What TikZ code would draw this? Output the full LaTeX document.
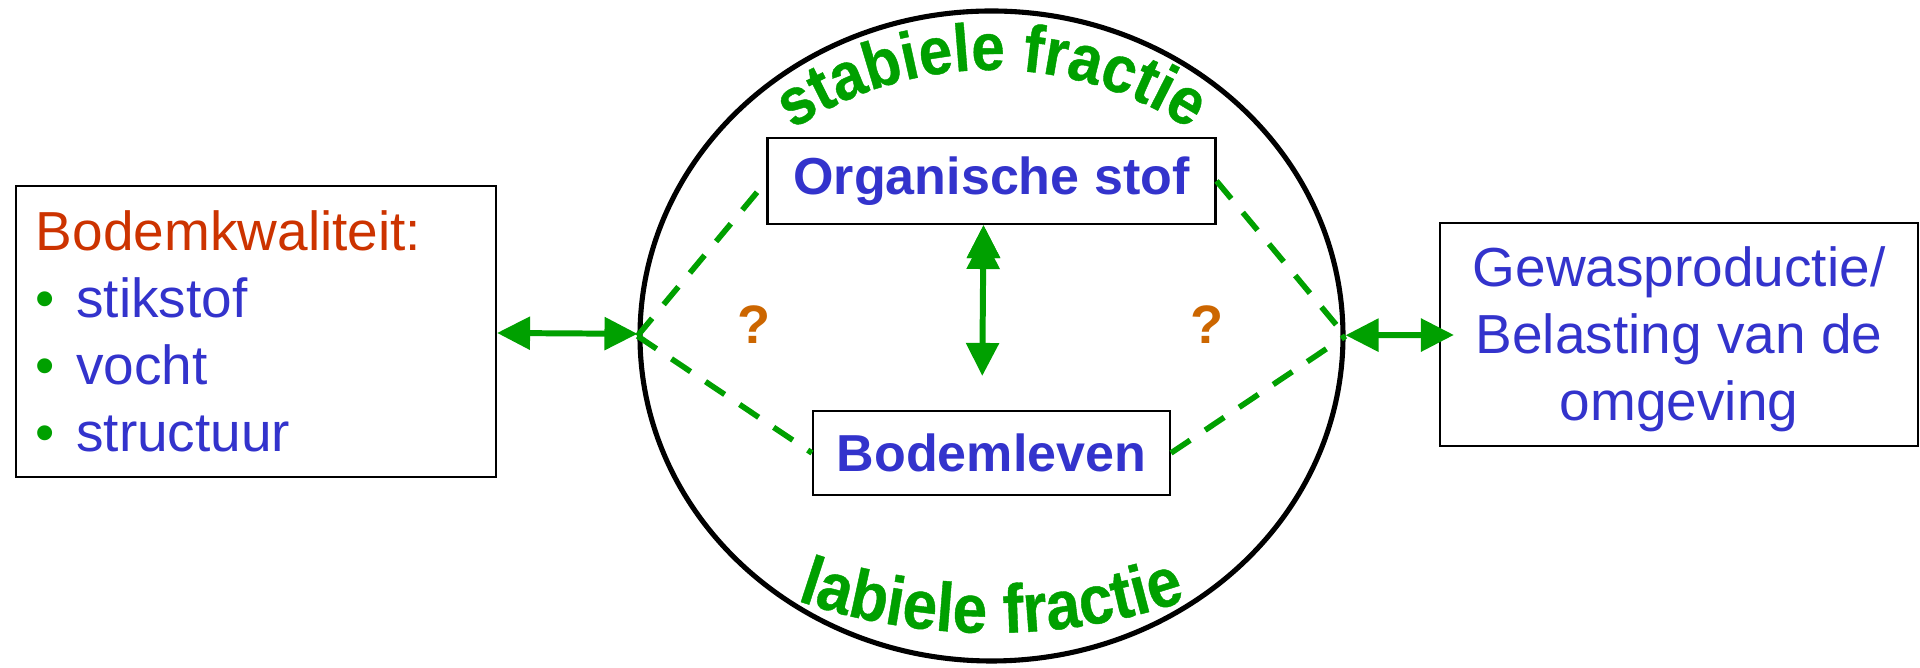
\documentclass[tikz,border=0pt]{standalone}
\usepackage{fontspec}
\setmainfont{Liberation Sans}
\newfontfamily\arcfont[FakeStretch=0.9, FakeBold=0.6]{Liberation Sans}
\usepackage{tikz}
\usetikzlibrary{positioning, arrows.meta, shapes.geometric, decorations.text}
\definecolor{txtblue}{RGB}{51,51,204}
\definecolor{kwalred}{RGB}{204,51,0}
\definecolor{fracgreen}{RGB}{0,160,0}
\definecolor{qorange}{RGB}{204,102,0}
\tikzset{>={Triangle[length=0.33cm, width=0.32cm]}, node distance=6cm, textbox/.style={draw, rectangle, line width=0.6pt, inner sep=0pt}, twoway/.style={<->, color=fracgreen, line width=1.7pt}, dashlink/.style={-, color=fracgreen, line width=1.6pt, dash pattern=on 0.23cm off 0.18cm}}

\begin{document}
\begin{tikzpicture}[every node/.style={align=center}]
	\useasboundingbox (-9.915,-3.32) rectangle (9.285,3.36);
	\node[ellipse, draw, line width=1.45pt, minimum width=7.03cm, minimum height=6.5cm] (Fracties) at (0,0) {};
	\node[textbox, above of=Fracties, node distance=1.55cm, minimum width=4.48cm, minimum height=0.86cm, font=\fontsize{14.8}{17}\selectfont\bfseries, text=txtblue] (Organische stof) {Organische stof};
	\node[textbox, below of=Fracties, node distance=1.17cm, minimum width=3.57cm, minimum height=0.84cm, font=\fontsize{14.8}{17}\selectfont\bfseries, text=txtblue] (Bodemleven) {Bodemleven};
	\node[textbox, left of=Fracties, node distance=7.355cm, yshift=0.045cm, text width=4.4cm, inner xsep=0.2cm, minimum height=2.91cm, align=left, font=\fontsize{15.65}{19.06}\selectfont, text=txtblue] (Bodemkwaliteit) {\textcolor{kwalred}{Bodemkwaliteit:}\\ \textcolor{fracgreen}{•}\hspace{0.21cm}stikstof\\ \textcolor{fracgreen}{•}\hspace{0.21cm}vocht\\ \textcolor{fracgreen}{•}\hspace{0.21cm}structuur};
	\node[textbox, right of=Fracties, node distance=6.875cm, yshift=0.015cm, minimum width=4.78cm, minimum height=2.23cm, font=\fontsize{15.65}{19.06}\selectfont, text=txtblue] (Gewasproductie) {\rule{0pt}{0.5cm}Gewasproductie/\\ Belasting van de\\ omgeving};
	\node[font=\fontsize{15.4}{18}\selectfont\bfseries, text=qorange] (Vraag links) at (-2.375,0.11) {?};
	\node[font=\fontsize{15.4}{18}\selectfont\bfseries, text=qorange] (Vraag rechts) at (2.155,0.11) {?};
	\path[decorate, decoration={text along path, text align=center, text color=fracgreen, text={|\arcfont\fontsize{19}{22}\selectfont\bfseries|stabiele fractie}}] (0,-0.94) ++(150:3.6) arc[start angle=150, end angle=30, radius=3.6];
	\path[decorate, decoration={text along path, text align=center, text color=fracgreen, text={|\arcfont\fontsize{19.6}{22}\selectfont\bfseries|labiele fractie}}] (0,3.03) ++(240:6) arc[start angle=240, end angle=300, radius=6];
	\draw[twoway]
		(Bodemkwaliteit) edge (Fracties)
		(Fracties) edge[shorten >=-0.15cm] (Gewasproductie)
		([xshift=-0.08cm]Organische stof.south) edge[shorten <=0.11cm, shorten >=0.34cm] ([xshift=-0.095cm]Bodemleven.north);
	\draw[dashlink]
		(Fracties.west) edge (Organische stof.west)
		(Fracties.west) edge (Bodemleven.west)
		(Organische stof.east) edge (Fracties.east)
		(Bodemleven.east) edge (Fracties.east);
\end{tikzpicture}
\end{document}
